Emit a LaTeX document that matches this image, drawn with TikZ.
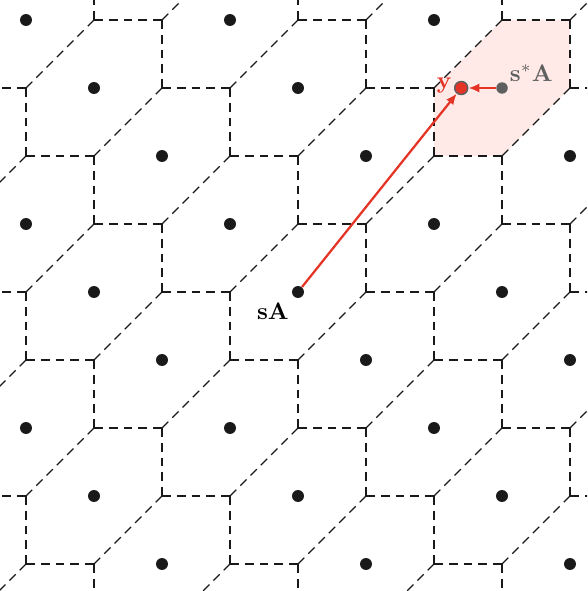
\documentclass[tikz,border=0pt]{standalone}
\usetikzlibrary{arrows.meta}
\definecolor{redarr}{RGB}{228,52,38}
\definecolor{pinkcell}{RGB}{255,234,231}
\definecolor{grayish}{RGB}{95,95,95}
\definecolor{dotcol}{RGB}{25,25,25}
\tikzset{
  edgeline/.style={line width=0.5pt, black!90},
  hseg/.style={edgeline, dash pattern=on 3.7pt off 2.49pt},
  dseg/.style={edgeline, dash pattern=on 3.7pt off 2.39pt},
  dot/.style={circle, fill=dotcol, inner sep=0pt, minimum size=5pt},
  graydot/.style={circle, fill=grayish, inner sep=0pt, minimum size=4.8pt},
  ydot/.style={circle, fill=redarr, draw=grayish, line width=0.55pt, inner sep=0pt, minimum size=5.4pt},
  redarrow/.style={draw=redarr, line width=0.95pt, -{Latex[length=4.6pt,width=3.8pt]}},
  lbl/.style={inner sep=0pt}
}
\begin{document}
\begin{tikzpicture}[x=1cm,y=-1cm]
\useasboundingbox (-0.3824,-0.2941) rectangle (8.25,8.397);
\clip (-0.3824,-0.2941) rectangle (8.25,8.397);
\fill[pinkcell] (7,0) -- (8,0) -- (8,1) -- (7,2) -- (6,2) -- (6,1) -- cycle;
\foreach \i in {-3,...,11}{
  \foreach \j in {-3,...,11}{
    \pgfmathtruncatemacro\r{mod(\i-\j+30,3)}
    \ifnum\r=0
      \draw[hseg] (\i,\j-1) -- (\i+1,\j-1);
      \draw[hseg] (\i+1,\j-1) -- (\i+1,\j);
      \draw[dseg] (\i+1,\j) -- (\i,\j+1);
    \fi
  }
}
\foreach \i in {-1,...,9}{
  \foreach \j in {-1,...,9}{
    \pgfmathtruncatemacro\r{mod(\i-\j+30,3)}
    \ifnum\r=0
      \ifnum\i=7 \ifnum\j=1 \else \node[dot] (p\i-\j) at (\i,\j) {}; \fi
      \else \node[dot] (p\i-\j) at (\i,\j) {}; \fi
    \fi
  }
}
\node[graydot] (sstar) at (7,1) {};
\node[ydot] (y) at (6.4,1) {};
\draw[redarrow] (p4-4) -- (y);
\draw[redarrow] (sstar) -- (y);
\node[ydot] at (y) {};
\node[lbl] (lsA) at (3.63,4.29) {$\mathbf{sA}$};
\node[lbl, text=redarr] (ly) at (6.15,0.96) {$\mathbf{y}$};
\node[lbl, text=grayish] (lsstar) at (7.43,0.78) {$\mathbf{s}^*\mathbf{A}$};
\end{tikzpicture}
\end{document}
